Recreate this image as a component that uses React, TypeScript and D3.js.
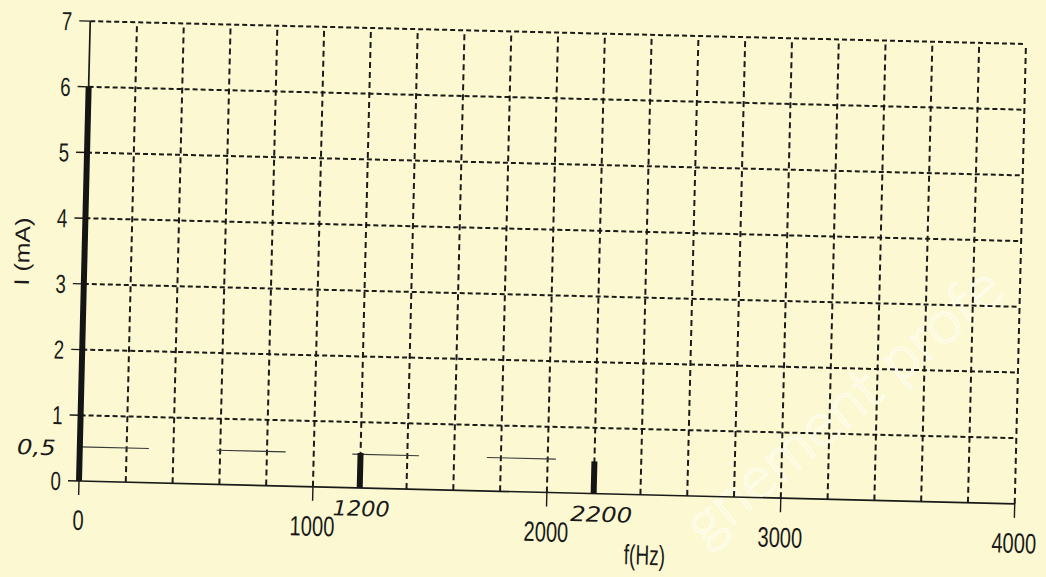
import React from 'react';
import * as d3 from 'd3';

// spectrum lines
const frequencies = [0, 1200, 2200];
const amplitudes = [6, 0.53, 0.49];

// axes
const xTickValues = [0, 1000, 2000, 3000, 4000];
const xTickLabels = ['0', '1000', '2000', '3000', '4000'];
const yTickValues = [0, 1, 2, 3, 4, 5, 6, 7];
const yTickLabels = ['0', '1', '2', '3', '4', '5', '6', '7'];
const gridFreqs = [200, 400, 600, 800, 1000, 1200, 1400, 1600, 1800, 2000, 2200, 2400, 2600, 2800, 3000, 3200, 3400, 3600, 3800, 4000];
const gridAmps = [1, 2, 3, 4, 5, 6, 7];

// hand-drawn 0.5 mA marks
const sketchStart = [0, 585, 1165, 1740];
const sketchEnd = [295, 880, 1450, 2035];
const sketchLevel = [0.52, 0.52, 0.51, 0.51];

// handwritten notes
const noteFreqs = [1200, 2200];
const noteTexts = ['1200', '2200'];
const levelNote = '0,5';
const levelNoteValue = 0.5;

const xTitle = 'f(Hz)';
const yTitle = 'I (mA)';
const watermark = 'gnement profe';

export default function App() {
  const W = 936;
  const H = 460;
  const x = d3.scaleLinear().domain([0, 4000]).range([0, W]);
  const y = d3.scaleLinear().domain([0, 7]).range([H, 0]);
  const ink = '#1a1a1a';
  const narrow = "'Liberation Sans', Arial, sans-serif";
  const hand = "'DejaVu Sans', sans-serif";

  return (
    <svg width={1046} height={577} style={{ position: 'fixed', left: 0, top: 0, display: 'block' }}>
      <rect x={0} y={0} width={1046} height={577} fill="#fcf9d2" />
      {/* watermark */}
      <text
        transform="translate(705,548) rotate(-40)"
        fontFamily="Lato, sans-serif"
        fontWeight={300}
        fontSize={60}
        textLength={395}
        lengthAdjust="spacingAndGlyphs"
        fill="none"
        stroke="#ffffff"
        strokeWidth={1.5}
        opacity={0.6}
      >
        {watermark}
      </text>

      <g transform={`translate(79,481) rotate(1.4) translate(0,${-H})`}>
        {/* horizontal grid */}
        {gridAmps.map((v) => (
          <line key={'h' + v} x1={x(0)} x2={x(4000)} y1={y(v)} y2={y(v)} stroke={ink} strokeWidth={2} strokeDasharray="5,3" />
        ))}
        {/* vertical grid */}
        {gridFreqs.map((f) => (
          <line key={'v' + f} x1={x(f)} x2={x(f)} y1={y(0)} y2={y(7)} stroke={ink} strokeWidth={2} strokeDasharray="6,4" />
        ))}
        {/* axes */}
        <line x1={x(0)} x2={x(0)} y1={y(0)} y2={y(7)} stroke={ink} strokeWidth={1.7} />
        <line x1={x(0)} x2={x(4000)} y1={y(0)} y2={y(0)} stroke={ink} strokeWidth={1.7} />
        {/* y ticks */}
        {yTickValues.map((v, i) => (
          <g key={'yt' + v}>
            <line x1={-11} x2={0} y1={y(v)} y2={y(v)} stroke={ink} strokeWidth={1.4} />
            <text
              transform={`translate(-18,${y(v) + 9.5}) scale(0.72,1)`}
              textAnchor="end"
              fontFamily={narrow}
              fontSize={26}
              fill={ink}
            >
              {yTickLabels[i]}
            </text>
          </g>
        ))}
        {/* x ticks */}
        {xTickValues.map((v, i) => (
          <g key={'xt' + v}>
            <line x1={x(v)} x2={x(v)} y1={y(0)} y2={y(0) + 14} stroke={ink} strokeWidth={1.4} />
            <text
              transform={`translate(${x(v)},${y(0) + 49}) scale(0.72,1)`}
              textAnchor="middle"
              fontFamily={narrow}
              fontSize={28}
              fill={ink}
            >
              {xTickLabels[i]}
            </text>
          </g>
        ))}
        {/* hand-drawn marks */}
        {sketchStart.map((s, i) => (
          <line key={'s' + i} x1={x(s)} x2={x(sketchEnd[i])} y1={y(sketchLevel[i])} y2={y(sketchLevel[i])} stroke="#3a3a3a" strokeWidth={1.1} />
        ))}
        {/* spectrum bars */}
        {frequencies.map((f, i) => (
          <rect key={'b' + f} x={x(f) - 3} y={y(amplitudes[i])} width={6} height={y(0) - y(amplitudes[i])} fill="#151515" />
        ))}
        {/* handwritten notes */}
        {noteFreqs.map((f, i) => (
          <text
            key={'n' + f}
            x={x(f) + (i === 0 ? 2 : 8)}
            y={y(0) + 28}
            textAnchor="middle"
            fontFamily={hand}
            fontStyle="italic"
            fontSize={21}
            textLength={i === 0 ? 57 : 62}
            lengthAdjust="spacingAndGlyphs"
            fill={ink}
          >
            {noteTexts[i]}
          </text>
        ))}
        <text
          x={-24}
          y={y(levelNoteValue) + 7.5}
          textAnchor="end"
          fontFamily={hand}
          fontStyle="italic"
          fontSize={21}
          textLength={39}
          lengthAdjust="spacingAndGlyphs"
          fill={ink}
        >
          {levelNote}
        </text>
        {/* axis titles */}
        <text
          transform={`translate(567,${y(0) + 70}) scale(0.68,1)`}
          textAnchor="middle"
          fontFamily={narrow}
          fontSize={28}
          fill={ink}
        >
          {xTitle}
        </text>
        <text
          transform={`translate(-55,232) rotate(-90)`}
          textAnchor="middle"
          fontFamily={narrow}
          fontSize={21}
          textLength={68}
          lengthAdjust="spacingAndGlyphs"
          fill={ink}
        >
          {yTitle}
        </text>
      </g>
    </svg>
  );
}
